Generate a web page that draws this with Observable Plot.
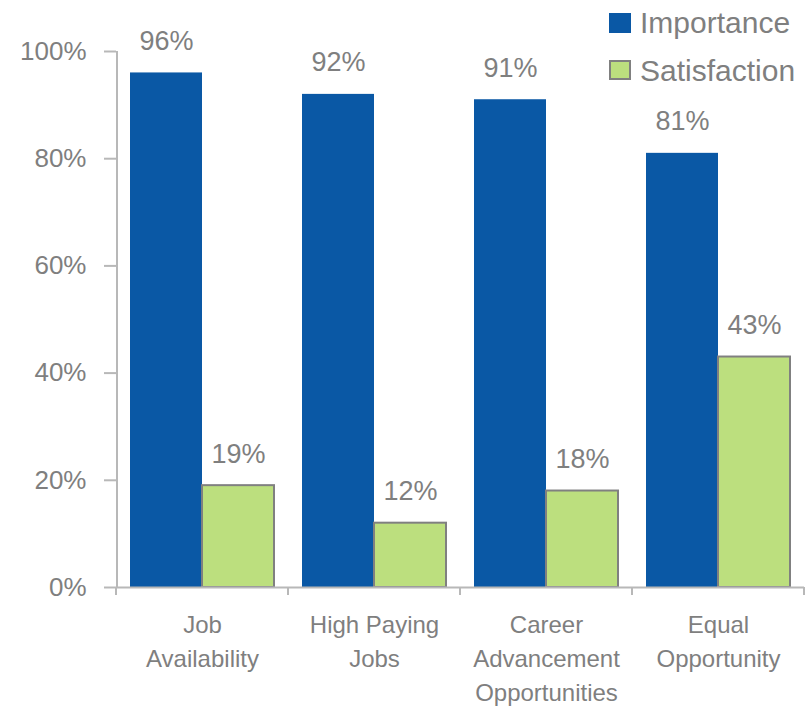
<!DOCTYPE html>
<html><head><meta charset="utf-8">
<script src="https://cdn.jsdelivr.net/npm/d3@7"></script>
<script src="https://cdn.jsdelivr.net/npm/@observablehq/plot@0.6"></script>
<style>
body{margin:0;background:#fff;font-family:"Liberation Sans",Arial,sans-serif;}
#wrap{position:relative;width:810px;height:708px;}
.sw{position:absolute;width:22px;height:20px;box-sizing:border-box;}
.lt{position:absolute;font-size:30px;line-height:30px;color:#7f7f7f;white-space:nowrap;}
</style></head><body>
<div id="wrap"><div id="chart"></div>
<div class="sw" id="sw1" style="left:609px;top:13px;"></div>
<div class="lt" id="lt1" style="left:640px;top:7.6px;"></div>
<div class="sw" id="sw2" style="left:609px;top:60px;border:2px solid #808080;"></div>
<div class="lt" id="lt2" style="left:640px;top:55.6px;"></div>
</div>
<script>
const categories = ["Job Availability","High Paying Jobs","Career Advancement Opportunities","Equal Opportunity"];
const categoryLabels = ["Job\nAvailability","High Paying\nJobs","Career\nAdvancement\nOpportunities","Equal\nOpportunity"];
const series = ["Importance","Satisfaction"];
const importance = [96,92,91,81];
const satisfaction = [19,12,18,43];
const yTicks = [0,20,40,60,80,100];
const colors = ["#0A58A5","#BCDF7E"];
const gray = "#7f7f7f";
const axisGray = "#b8b8b8";

const data = categories.flatMap((c,i)=>[
  {category:c, series:series[0], value:importance[i]},
  {category:c, series:series[1], value:satisfaction[i]}
]);
const labels = categories.map((c,i)=>({category:c, label:categoryLabels[i]}));

const plot = Plot.plot({
  width:810, height:708,
  marginLeft:115, marginRight:6, marginTop:51, marginBottom:121,
  style:{fontFamily:"'Liberation Sans', Arial, sans-serif", color:gray, background:"#fff", overflow:"visible"},
  fx:{domain:categories, padding:0, axis:null},
  x:{domain:series, paddingInner:0, paddingOuter:0.19, axis:null},
  y:{domain:[0,100], axis:null},
  marks:[
    Plot.axisY({ticks:yTicks, tickFormat:d=>d+"%", tickSize:12, tickPadding:18, fontSize:26, stroke:axisGray, strokeWidth:2, fill:gray, label:null}),
    Plot.barY(data.filter(d=>d.series===series[0]), {fx:"category", x:"series", y:"value", fill:colors[0]}),
    Plot.barY(data.filter(d=>d.series===series[1]), {fx:"category", x:"series", y:"value", fill:colors[1], stroke:"#808080", strokeWidth:2}),
    Plot.ruleY([0], {stroke:axisGray, strokeWidth:2}),
    Plot.text(data, {fx:"category", x:"series", y:"value", text:d=>d.value+"%", dy:-23, lineAnchor:"bottom", fontSize:27, fill:gray}),
    Plot.text(labels, {fx:"category", text:"label", frameAnchor:"bottom", lineAnchor:"top", dy:22, fontSize:24, lineHeight:1.4, fill:gray})
  ]
});
document.getElementById("chart").appendChild(plot);

// axis line and group boundary ticks from the library's scales
const fx = plot.scale("fx");
const y = plot.scale("y");
const svg = d3.select(plot);
const edges = fx.domain.map(c=>fx.apply(c)).concat([fx.apply(fx.domain[fx.domain.length-1]) + fx.bandwidth]);
const y0 = y.apply(0), yTop = y.apply(100);
svg.append("line").attr("x1",edges[0]+1).attr("x2",edges[0]+1).attr("y1",yTop).attr("y2",y0)
  .attr("stroke",axisGray).attr("stroke-width",2);
svg.selectAll("line.bt").data(edges).join("line").attr("class","bt")
  .attr("x1",d=>d).attr("x2",d=>d).attr("y1",y0).attr("y2",y0+8)
  .attr("stroke",axisGray).attr("stroke-width",2);

document.getElementById("sw1").style.background = colors[0];
document.getElementById("sw2").style.background = colors[1];
document.getElementById("lt1").textContent = series[0];
document.getElementById("lt2").textContent = series[1];
</script>
</body></html>
